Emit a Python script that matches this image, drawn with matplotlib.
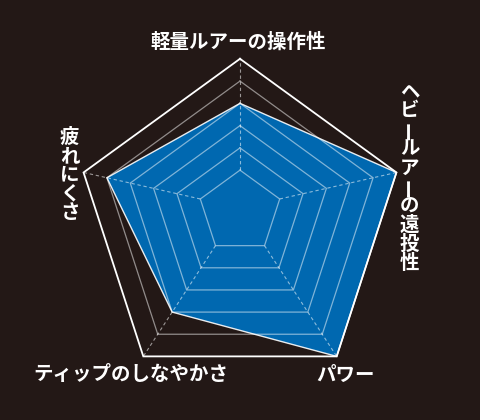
import numpy as np
import matplotlib
matplotlib.use("Agg")
import matplotlib.pyplot as plt

plt.rcParams['font.family'] = ['Noto Sans CJK JP', 'DejaVu Sans']

# ---- data ----
categories = ["軽量ルアーの操作性", "ヘビールアーの遠投性", "パワー",
              "ティップのしなやかさ", "疲れにくさ"]
values = [4, 6, 6, 4, 5]
ring_levels = [1, 2, 3, 4, 5, 6]

# ---- style / layout ----
BG = "#231816"
BLUE = "#0068b0"
VMIN_ORIGIN = -0.7          # value that maps to the spoke convergence point
VMAX = ring_levels[-1]
P = np.array([240.0, 208.0])      # convergence point of the rings (pixels)
C = np.array([240.0, 223.3])      # centroid of the outer pentagon
R = 164.5                          # circumradius of the outer pentagon

n = len(categories)
theta = np.deg2rad(np.arange(n) * 360.0 / n)
outer = C + R * np.column_stack([np.sin(theta), -np.cos(theta)])


def pts(vals):
    vals = np.asarray(vals, dtype=float)
    f = (vals - VMIN_ORIGIN) / (VMAX - VMIN_ORIGIN)
    return P + f[:, None] * (outer - P)


fig = plt.figure(figsize=(4.8, 4.2), dpi=100, facecolor=BG)
ax = fig.add_axes([0, 0, 1, 1])
ax.set_facecolor(BG)
ax.set_xlim(0, 480)
ax.set_ylim(420, 0)
ax.axis("off")

# data polygon
d = pts(values)
ax.fill(d[:, 0], d[:, 1], color=BLUE, zorder=2, lw=0)
dc = np.vstack([d, d[:1]])
ax.plot(dc[:, 0], dc[:, 1], color="white", lw=1.0, alpha=0.9, zorder=4,
        solid_joinstyle="miter")

# rings
for lv in ring_levels:
    r = pts([lv] * n)
    r = np.vstack([r, r[:1]])
    if lv == VMAX:
        ax.plot(r[:, 0], r[:, 1], color="white", lw=1.3, zorder=5,
                solid_joinstyle="miter")
    else:
        ax.plot(r[:, 0], r[:, 1], color="white", lw=0.9, alpha=0.5, zorder=3,
                solid_joinstyle="miter")

# spokes
inner = pts([ring_levels[0]] * n)
outer_pts = pts([VMAX] * n)
for i in range(n):
    ax.plot([inner[i, 0], outer_pts[i, 0]], [inner[i, 1], outer_pts[i, 1]],
            color="white", lw=0.8, alpha=0.55, ls=(0, (3, 2.5)), zorder=3)

# labels
FS = 14
tkw = dict(color="white", fontsize=FS, fontweight="bold",
           ha="center", va="center", zorder=6)

ax.text(238, 42, categories[0], **tkw)
ax.text(131, 375, categories[3], **tkw)
ax.text(346, 375, categories[2], **tkw)


def vertical(label, x, yc, step):
    m = len(label)
    y0 = yc - step * (m - 1) / 2
    for k, ch in enumerate(label):
        rot = 90 if ch == "ー" else 0
        ax.text(x, y0 + k * step, ch, rotation=rot, **tkw)


vertical(categories[1], 409.5, 177.5, 19.1)
vertical(categories[4], 69.5, 175, 18.8)

fig.savefig("out.png", dpi=100, facecolor=BG)
